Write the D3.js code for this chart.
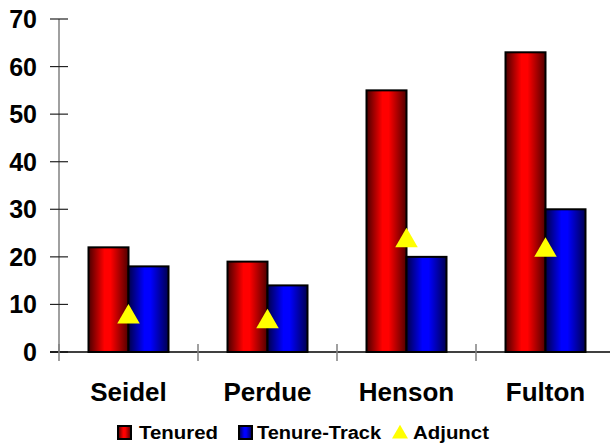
<!DOCTYPE html>
<html><head><meta charset="utf-8">
<script src="https://cdn.jsdelivr.net/npm/d3@7"></script>
<style>body{margin:0;background:#fff}svg{display:block;font-family:Arial,"Liberation Sans",sans-serif;font-weight:bold}</style>
</head><body>
<svg id="c" width="610" height="447"></svg>
<script>
const categories = ["Seidel", "Perdue", "Henson", "Fulton"];
const tenured = [22, 19, 55, 63];
const tenureTrack = [18, 14, 20, 30];
const adjunct = [8, 7, 24, 22];
const yTicks = [0, 10, 20, 30, 40, 50, 60, 70];
const seriesNames = ["Tenured", "Tenure-Track", "Adjunct"];

const svg = d3.select("#c");
const defs = svg.append("defs");
function grad(id, dark, bright, darkR) {
  const g = defs.append("linearGradient").attr("id", id).attr("x1", "0").attr("x2", "1").attr("y1", "0").attr("y2", "0");
  g.append("stop").attr("offset", "0").attr("stop-color", dark);
  g.append("stop").attr("offset", "0.4").attr("stop-color", bright);
  g.append("stop").attr("offset", "0.55").attr("stop-color", bright);
  g.append("stop").attr("offset", "1").attr("stop-color", darkR);
}
grad("gr", "#4a0000", "#ff0000", "#500000");
grad("gb", "#00004a", "#0000ff", "#000050");

const x = d3.scaleBand().domain(categories).range([59, 615]).padding(0);
const groupW = 80;
const xs = d3.scaleBand().domain(["t", "tt"]).range([0, groupW]);
const y = d3.scaleLinear().domain([0, 70]).range([352, 19]);

// y axis
svg.append("line").attr("x1", 59).attr("x2", 59).attr("y1", y(70)).attr("y2", y(0)).attr("stroke", "#808080").attr("stroke-width", 1.5);
svg.selectAll(".yt").data(yTicks).join("line")
  .attr("x1", 50).attr("x2", 68).attr("y1", d => y(d)).attr("y2", d => y(d))
  .attr("stroke", "#222").attr("stroke-width", 1.2);
svg.selectAll(".yl").data(yTicks).join("text")
  .attr("x", 37).attr("y", d => y(d)).attr("dy", "0.36em").attr("text-anchor", "end")
  .attr("font-size", 25).text(d => d);

// bars
const data = categories.map((c, i) => ({c, t: tenured[i], tt: tenureTrack[i], a: adjunct[i]}));
const g0 = x.bandwidth() / 2 - groupW / 2;
svg.selectAll(".bt").data(data).join("rect")
  .attr("x", d => x(d.c) + g0 + xs("t")).attr("width", xs.bandwidth())
  .attr("y", d => y(d.t)).attr("height", d => y(0) - y(d.t))
  .attr("fill", "url(#gr)").attr("stroke", "#000").attr("stroke-width", 2);
svg.selectAll(".btt").data(data).join("rect")
  .attr("x", d => x(d.c) + g0 + xs("tt")).attr("width", xs.bandwidth())
  .attr("y", d => y(d.tt)).attr("height", d => y(0) - y(d.tt))
  .attr("fill", "url(#gb)").attr("stroke", "#000").attr("stroke-width", 2);

// x axis
svg.append("line").attr("x1", 50).attr("x2", 610).attr("y1", y(0)).attr("y2", y(0)).attr("stroke", "#000").attr("stroke-width", 1.5);
svg.selectAll(".xt").data(categories).join("line")
  .attr("x1", d => x(d)).attr("x2", d => x(d)).attr("y1", y(0) - 8).attr("y2", y(0) + 9)
  .attr("stroke", "#808080").attr("stroke-width", 1.5);
svg.selectAll(".xl").data(categories).join("text")
  .attr("x", d => x(d) + x.bandwidth() / 2).attr("y", 401).attr("text-anchor", "middle")
  .attr("font-size", 26).text(d => d);

// adjunct triangles
const tri = d3.symbol(d3.symbolTriangle, 220);
svg.selectAll(".tr").data(data).join("path")
  .attr("d", tri)
  .attr("transform", d => `translate(${x(d.c) + x.bandwidth() / 2},${y(d.a) + 3})`)
  .attr("fill", "#ffff00");

// legend
const lg = svg.append("g").attr("transform", "translate(117,0)");
lg.append("rect").attr("x", 1).attr("y", 426).attr("width", 13).attr("height", 13).attr("fill", "url(#gr)").attr("stroke", "#000").attr("stroke-width", 2);
lg.append("text").attr("x", 22).attr("y", 439).attr("font-size", 17.5).attr("textLength", 79).attr("lengthAdjust", "spacingAndGlyphs").text(seriesNames[0]);
lg.append("rect").attr("x", 122).attr("y", 426).attr("width", 13).attr("height", 13).attr("fill", "url(#gb)").attr("stroke", "#000").attr("stroke-width", 2);
lg.append("text").attr("x", 140).attr("y", 439).attr("font-size", 17.5).attr("textLength", 124).attr("lengthAdjust", "spacingAndGlyphs").text(seriesNames[1]);
lg.append("path").attr("d", d3.symbol(d3.symbolTriangle, 110)).attr("transform", "translate(283,434)").attr("fill", "#ffff00");
lg.append("text").attr("x", 296).attr("y", 439).attr("font-size", 17.5).attr("textLength", 76).attr("lengthAdjust", "spacingAndGlyphs").text(seriesNames[2]);
</script>
</body></html>
